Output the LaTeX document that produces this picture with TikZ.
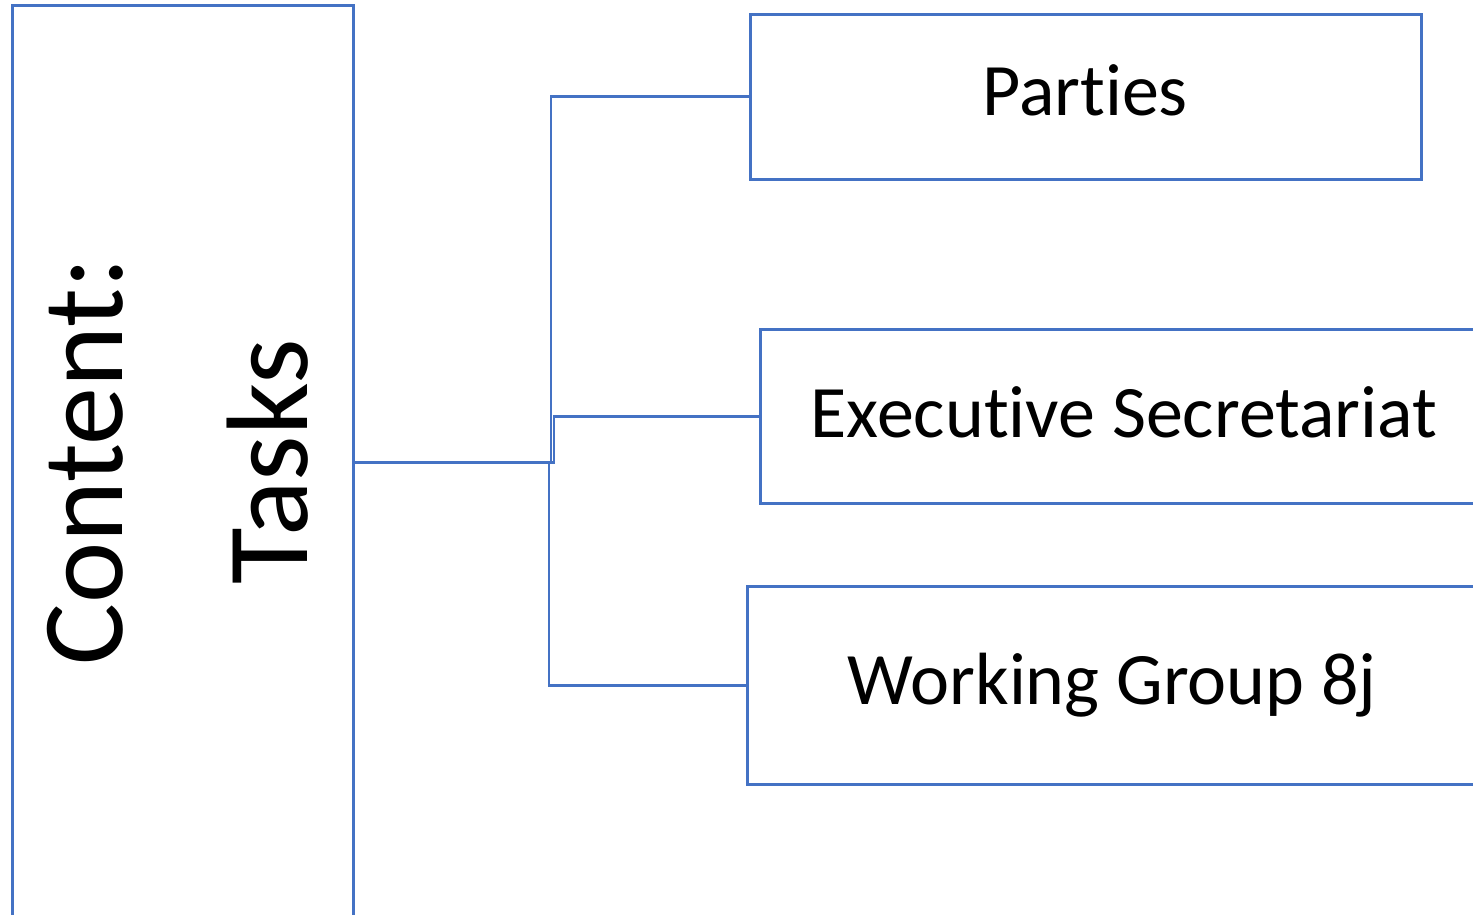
\documentclass[tikz,border=0pt]{standalone}
\usepackage{fontspec}
\setmainfont{Carlito}[Ligatures=NoCommon]
\definecolor{obl}{HTML}{4472C4}
\tikzset{
  box/.style={draw=obl, line width=2.6pt, rectangle, inner sep=0pt},
  conn/.style={draw=obl, line width=2.6pt},
  big/.style={font=\fontsize{116}{120}\selectfont},
  lab/.style={font=\fontsize{74}{80}\selectfont}
}
\begin{document}
\begin{tikzpicture}[x=1pt,y=-1pt]
\useasboundingbox (0,0) rectangle (1473,915);
\clip (0,0) rectangle (1473,915);
\node[box, anchor=north west, minimum width=341pt, minimum height=914pt] (L) at (11,4) {};
\node[box, anchor=north west, minimum width=671pt, minimum height=165pt] (P) at (749,13) {};
\node[box, anchor=north west, minimum width=730pt, minimum height=174pt] (E) at (759,328) {};
\node[box, anchor=north west, minimum width=732pt, minimum height=198pt] (W) at (746,585) {};
\node[lab] (Pt) at (1085,90) {Parties};
\node[lab] (Et) at (1124,412) {Executive Secretariat};
\node[lab] (Wt) at (1112,685) {Working Group 8j};
\node[big, rotate=90, anchor=base] (C1) at (122,461.5) {Content:};
\node[big, rotate=90, anchor=base] (C2) at (307,461.5) {Tasks};
\coordinate (jP) at (551,461);
\coordinate (jE) at (554,461);
\coordinate (jW) at (549,461);
\draw[conn] (L.east) -- (L.east -| jE) |- (E.west);
\draw[conn] (L.east) -- (L.east -| jP) |- (P.west);
\draw[conn] (L.east) -- (L.east -| jW) |- (W.west);
\end{tikzpicture}
\end{document}
